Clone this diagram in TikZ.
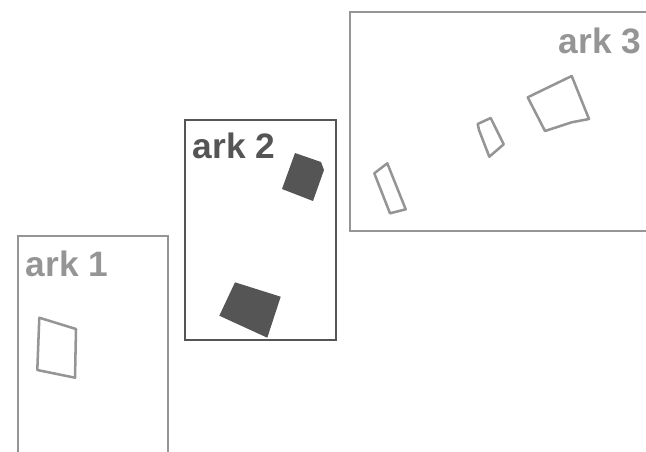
\documentclass[tikz,border=0pt]{standalone}
\usepackage{fontspec}
\setmainfont{Liberation Sans}
\usepackage{tikz}
\usetikzlibrary{positioning}

\definecolor{arklight}{HTML}{959595}
\definecolor{arkdark}{HTML}{555555}

\tikzset{
  arkbox/.style={draw=#1, line width=1.9pt},
  arklabel/.style={text=#1, inner sep=0pt, font=\fontsize{26.5}{30}\selectfont\bfseries},
  stone/.style={draw=arklight, line width=1.9pt, line join=round},
  block/.style={fill=arkdark}
}

\begin{document}
\begin{tikzpicture}[x=0.75pt, y=-0.75pt]
    \useasboundingbox (0,0) rectangle (646,451);
    \clip (0,0) rectangle (646,451);

    % arks
    \coordinate (a1) at (18,236);  \coordinate (b1) at (168,470);
    \coordinate (a2) at (185,120); \coordinate (b2) at (336,340);
    \coordinate (a3) at (350,12);  \coordinate (b3) at (670,231);
    \draw[arkbox=arklight] (a1) rectangle (b1);
    \draw[arkbox=arkdark] (a2) rectangle (b2);
    \draw[arkbox=arklight] (a3) rectangle (b3);

    \node[arklabel=arklight, anchor=base west] (lab1) at (25.5,276) {ark 1};
    \node[arklabel=arkdark, anchor=base west] (lab2) at (192.5,158.5) {ark 2};
    \node[arklabel=arklight, anchor=base east] (lab3) at (641.5,53.5) {ark 3};

    % ark 1
    \draw[stone] (39.3,317.7) -- (76,329) -- (75,377.7) -- (37.3,370) -- cycle;

    % ark 2
    \fill[block] (295,153) -- (321,162) -- (324,170) -- (313,201) -- (282,189) -- cycle;
    \fill[block] (235,282.3) -- (280.7,296.7) -- (267.3,337.7) -- (219.3,315.7) -- cycle;

    % ark 3
    \draw[stone] (374.3,173.3) -- (387.3,163.3) -- (405.7,209.3) -- (390,213.3) -- cycle;
    \draw[stone] (477.7,124) -- (490.7,118) -- (503.7,144.3) -- (489.3,156.7) -- (479,130) -- cycle;
    \draw[stone] (527.7,97.3) -- (571.7,76) -- (589,119) -- (571.7,122.3) -- (545,131) -- cycle;
\end{tikzpicture}
\end{document}
